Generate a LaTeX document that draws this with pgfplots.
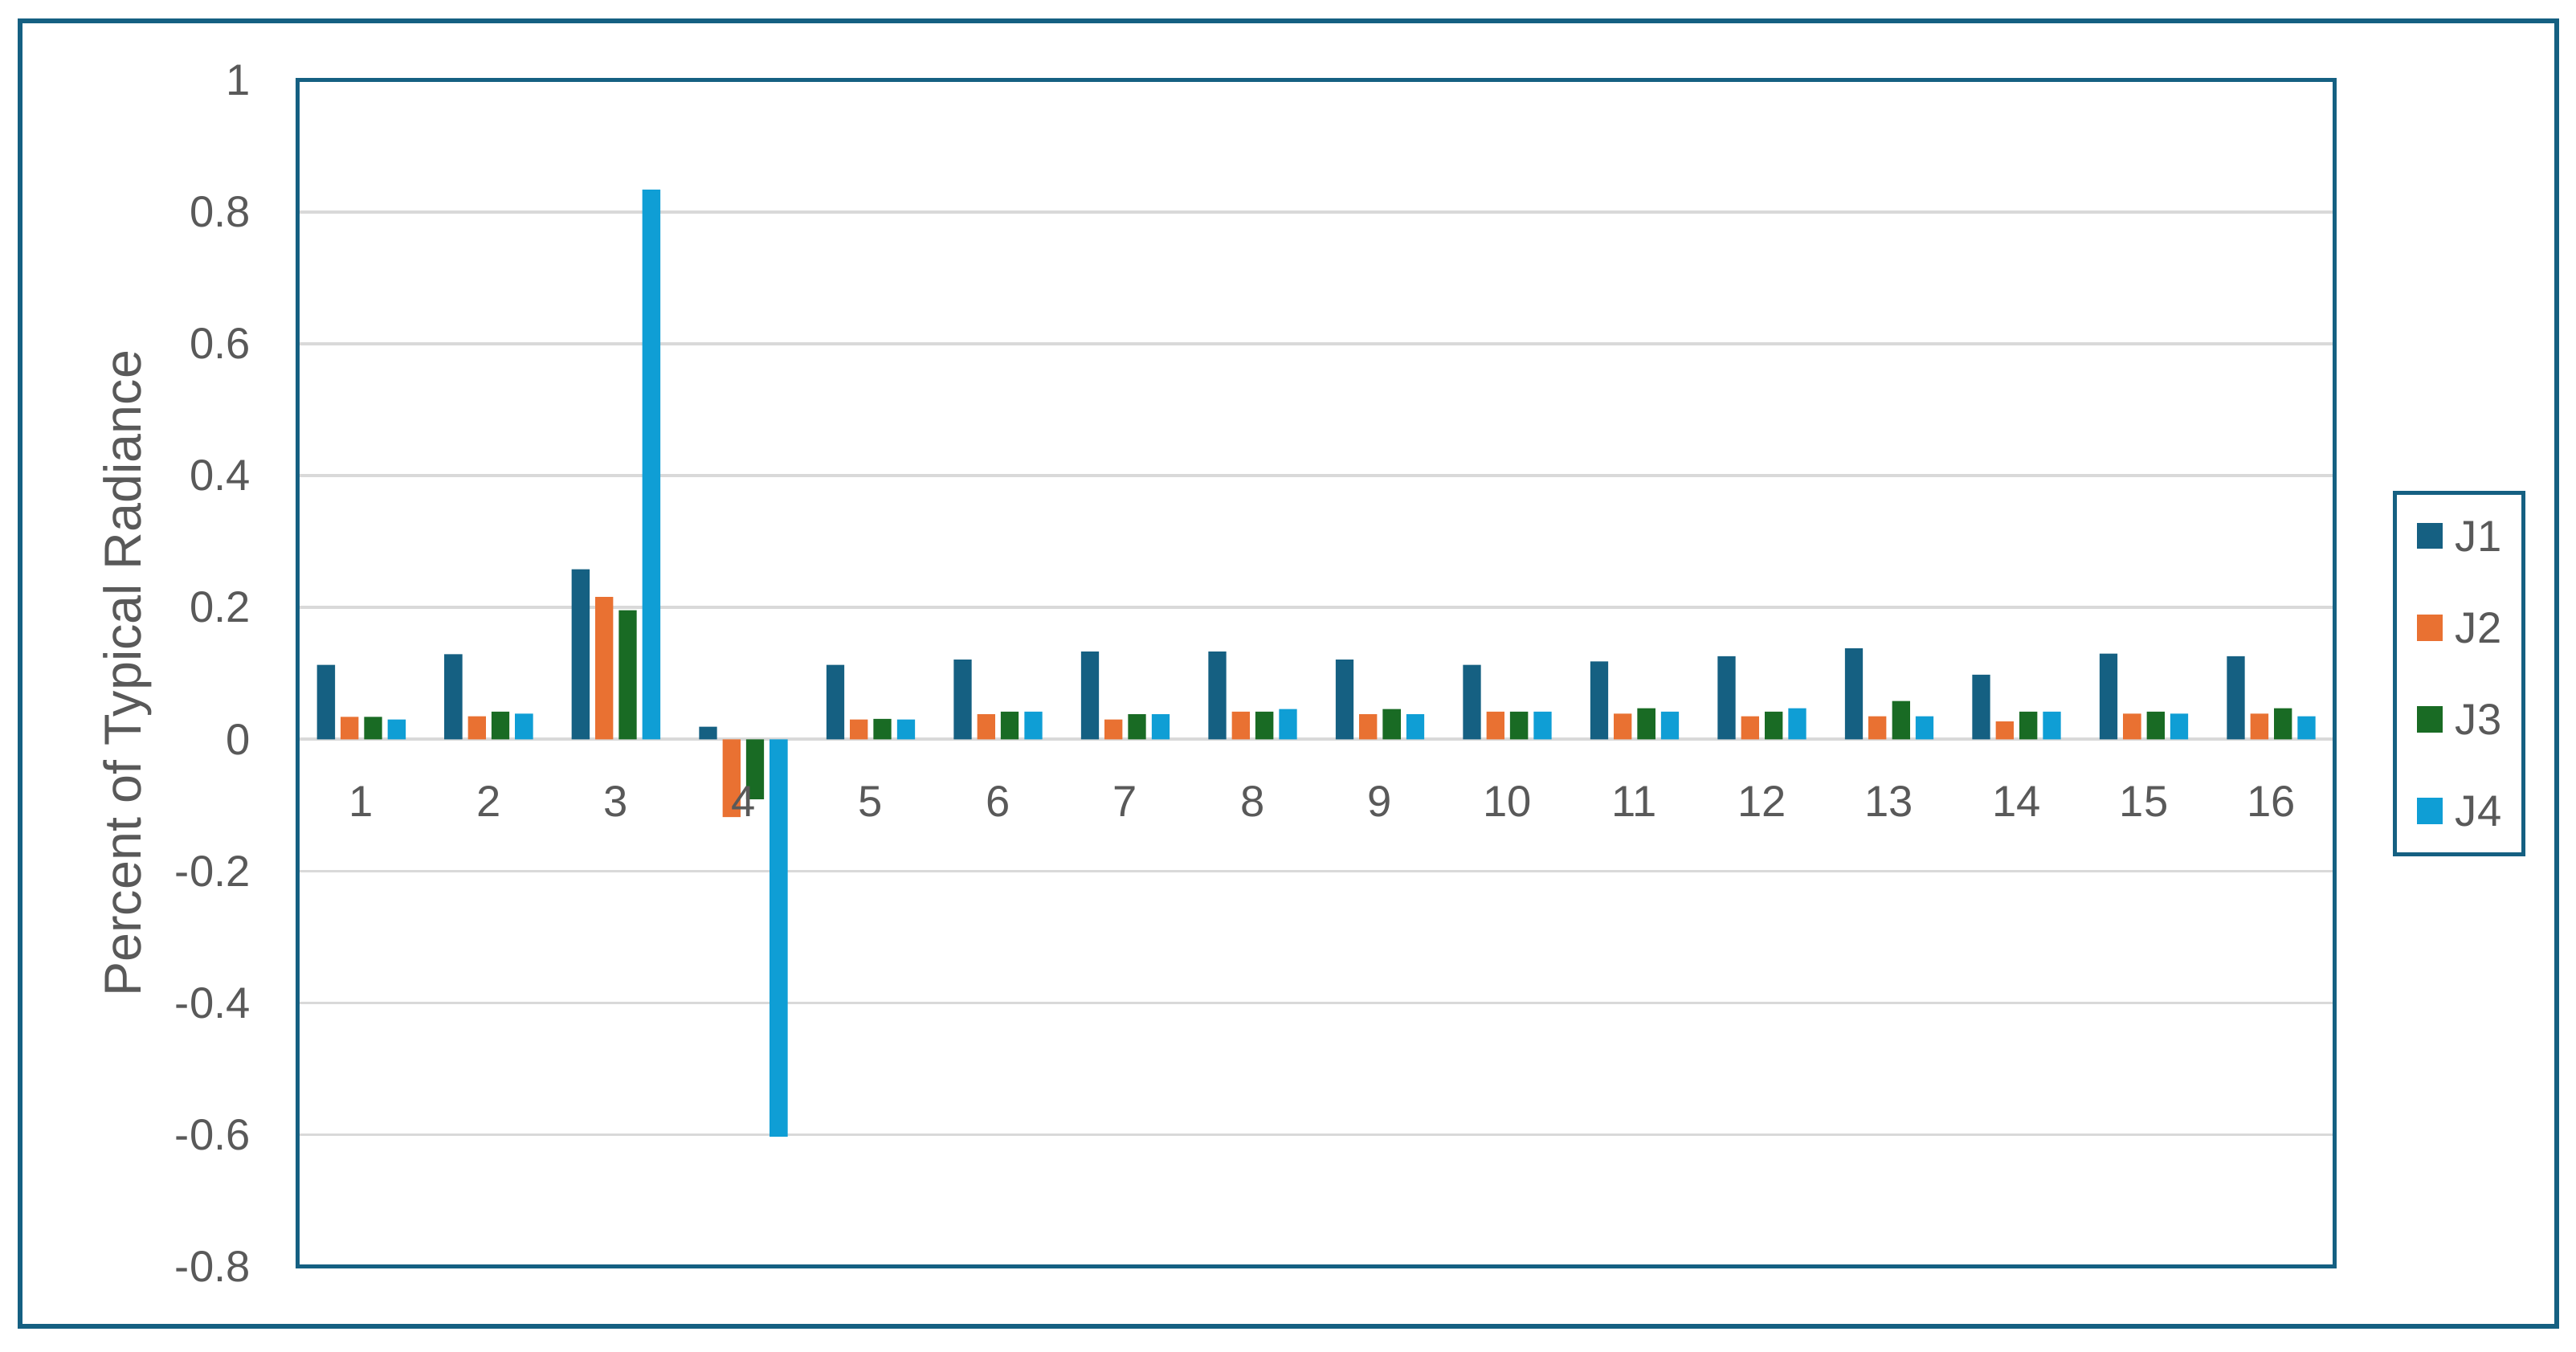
\documentclass[border=0pt]{standalone}
\usepackage{pgfplots}
\usepackage{pgfplotstable}
\pgfplotsset{compat=1.18}
\usepackage{fontspec}
\setmainfont{Liberation Sans}
\definecolor{cJone}{HTML}{156082}
\definecolor{cJtwo}{HTML}{E97132}
\definecolor{cJthree}{HTML}{196B24}
\definecolor{cJfour}{HTML}{0F9ED5}
\definecolor{frame}{HTML}{156082}
\definecolor{gridgray}{HTML}{D9D9D9}
\definecolor{txt}{HTML}{595959}
\pgfplotstableread{
x J1 J2 J3 J4
1 0.113 0.034 0.034 0.030
2 0.129 0.035 0.042 0.039
3 0.258 0.216 0.196 0.834
4 0.019 -0.118 -0.091 -0.603
5 0.113 0.030 0.031 0.030
6 0.121 0.038 0.042 0.042
7 0.133 0.030 0.038 0.038
8 0.133 0.042 0.042 0.046
9 0.121 0.038 0.046 0.038
10 0.113 0.042 0.042 0.042
11 0.118 0.039 0.047 0.042
12 0.126 0.035 0.042 0.047
13 0.138 0.035 0.058 0.035
14 0.098 0.027 0.042 0.042
15 0.130 0.039 0.042 0.039
16 0.126 0.039 0.047 0.035
}\datatable
\newcommand\tickfont{\fontsize{13.3}{16}\selectfont}
\newcommand\labfont{\fontsize{15.8}{19}\selectfont}
\pgfplotsset{
  commonaxis/.style={
    at={(90.6pt,26pt)}, anchor=south west,
    scale only axis, width=620pt, height=361pt,
    /pgf/number format/assume math mode=true,
    xmin=0.5, xmax=16.5, ymin=-0.8, ymax=1,
    major tick length=0pt,
  },
}
\begin{document}
\begin{tikzpicture}[x=1pt,y=1pt]
\path[use as bounding box] (0,0) rectangle (784,411.43);
\fill[white] (0,0) rectangle (784,411.43);
\draw[frame, line width=1.3pt] (6.1,7.8) rectangle (778.1,405.1);
\begin{axis}[
  commonaxis,
  ybar=1.72pt, bar width=5.45pt,
  xtick={1,2,3,4,5,6,7,8,9,10,11,12,13,14,15,16},
  xticklabels={},
  ytick={-0.8,-0.6,-0.4,-0.2,0,0.2,0.4,0.6,0.8,1},
  yticklabels={-0.8,-0.6,-0.4,-0.2,0,0.2,0.4,0.6,0.8,1},
  ymajorgrids, grid style={color=gridgray, line width=0.9pt},
  axis line style={frame, line width=1.2pt},
  yticklabel style={anchor=east, xshift=-14.2pt, font=\tickfont, text=txt, inner sep=0pt},
  ylabel={Percent of Typical Radiance},
  ylabel style={at={(axis description cs:-0.0837,0.5)}, anchor=center, font=\labfont, text=txt},
  legend cell align=left,
  legend style={at={(axis description cs:1.0285,0.5)}, anchor=west,
    draw=frame, line width=1.2pt, fill=white, font=\tickfont, text=txt,
    inner xsep=6.6pt, inner ysep=8.4pt, row sep=18.4pt,
    nodes={inner sep=0pt, text height=9.5pt, text depth=0pt},
    /tikz/every odd column/.append style={column sep=3.8pt}},
]
\addplot[fill=cJone, draw=none, legend image code/.code={\fill[cJone] (0pt,-4pt) rectangle (8pt,4pt);}] table[x=x,y=J1] {\datatable};
\addplot[fill=cJtwo, draw=none, legend image code/.code={\fill[cJtwo] (0pt,-4pt) rectangle (8pt,4pt);}] table[x=x,y=J2] {\datatable};
\addplot[fill=cJthree, draw=none, legend image code/.code={\fill[cJthree] (0pt,-4pt) rectangle (8pt,4pt);}] table[x=x,y=J3] {\datatable};
\addplot[fill=cJfour, draw=none, legend image code/.code={\fill[cJfour] (0pt,-4pt) rectangle (8pt,4pt);}] table[x=x,y=J4] {\datatable};
\legend{J1,J2,J3,J4}
\end{axis}
\begin{axis}[
  commonaxis,
  axis line style={draw=none},
  xtick={1,2,3,4,5,6,7,8,9,10,11,12,13,14,15,16},
  xticklabels={1,2,3,4,5,6,7,8,9,10,11,12,13,14,15,16},
  ytick=\empty,
  xticklabel style={anchor=center, yshift=141.5pt, font=\tickfont, text=txt, inner sep=0pt},
]
\end{axis}
\end{tikzpicture}
\end{document}
